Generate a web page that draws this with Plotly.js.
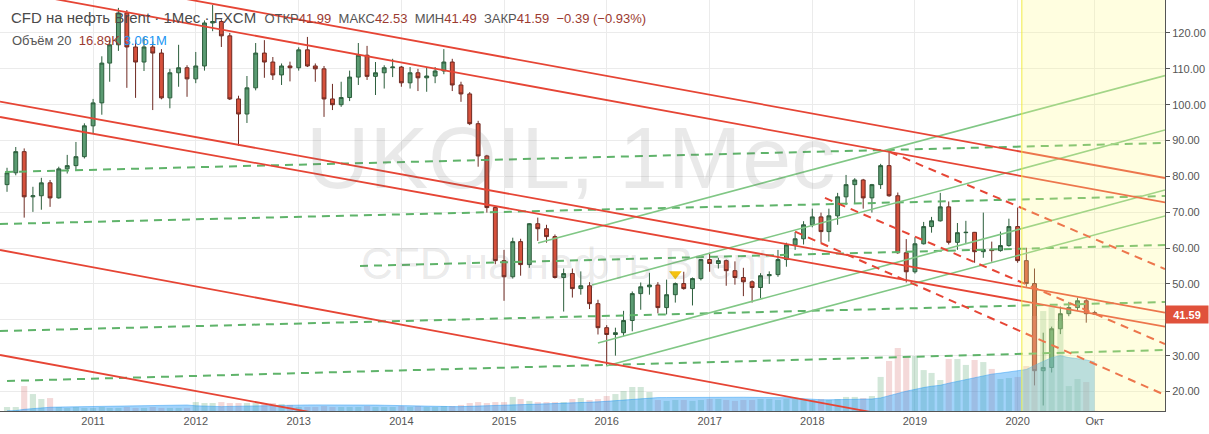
<!DOCTYPE html>
<html>
<head>
<meta charset="utf-8">
<script src="https://cdn.plot.ly/plotly-3.0.1.min.js"></script>
<style>
html,body{margin:0;padding:0;background:#fff;}
#chart{width:1209px;height:434px;}
</style>
</head>
<body>
<div id="chart"></div>
<script>
// ---------------- data ----------------
const months = [
 '2010-03','2010-04','2010-05','2010-06','2010-07','2010-08','2010-09','2010-10','2010-11','2010-12',
 '2011-01','2011-02','2011-03','2011-04','2011-05','2011-06','2011-07','2011-08','2011-09','2011-10','2011-11','2011-12',
 '2012-01','2012-02','2012-03','2012-04','2012-05','2012-06','2012-07','2012-08','2012-09','2012-10','2012-11','2012-12',
 '2013-01','2013-02','2013-03','2013-04','2013-05','2013-06','2013-07','2013-08','2013-09','2013-10','2013-11','2013-12',
 '2014-01','2014-02','2014-03','2014-04','2014-05','2014-06','2014-07','2014-08','2014-09','2014-10','2014-11','2014-12',
 '2015-01','2015-02','2015-03','2015-04','2015-05','2015-06','2015-07','2015-08','2015-09','2015-10','2015-11','2015-12',
 '2016-01','2016-02','2016-03','2016-04','2016-05','2016-06','2016-07','2016-08','2016-09','2016-10','2016-11','2016-12',
 '2017-01','2017-02','2017-03','2017-04','2017-05','2017-06','2017-07','2017-08','2017-09','2017-10','2017-11','2017-12',
 '2018-01','2018-02','2018-03','2018-04','2018-05','2018-06','2018-07','2018-08','2018-09','2018-10','2018-11','2018-12',
 '2019-01','2019-02','2019-03','2019-04','2019-05','2019-06','2019-07','2019-08','2019-09','2019-10','2019-11','2019-12',
 '2020-01','2020-02','2020-03','2020-04','2020-05','2020-06','2020-07','2020-08','2020-09','2020-10'
];
const openP = [
 77.7,81.0,86.9,74.3,74.6,78.2,74.0,82.1,83.0,85.5,
 94.1,100.5,111.6,116.7,125.6,116.1,111.9,116.1,114.4,101.9,108.9,110.3,
 107.2,110.8,122.8,123.2,119.2,101.6,97.4,104.7,114.4,111.9,108.3,110.8,
 110.3,115.3,110.8,110.0,101.6,100.0,102.0,107.7,113.8,107.9,108.9,110.3,
 110.5,106.1,108.9,107.5,108.0,109.4,111.9,105.5,103.0,94.7,85.7,71.3,
 56.5,52.0,61.8,55.4,66.8,65.4,63.2,51.8,52.9,48.7,49.5,44.5,
 37.8,35.9,36.4,39.8,47.3,49.2,49.7,43.4,47.0,50.1,48.7,51.5,
 56.8,55.7,56.5,53.7,51.8,50.6,49.0,52.3,52.6,56.8,60.9,62.6,
 66.5,68.7,64.6,69.0,74.3,77.7,79.0,74.0,77.7,83.0,74.6,58.7,
 53.4,61.2,66.0,67.6,71.5,61.6,64.3,64.4,59.0,59.6,59.3,60.7,
 66.0,56.5,50.1,25.8,26.7,37.5,41.7,43.4,45.3,41.99
];
const highP = [
 82.4,88.2,87.8,77.1,79.6,79.0,82.7,86.0,89.6,94.8,
 101.6,113.5,117.8,127.0,126.4,118.0,118.8,117.6,115.5,110.0,116.7,111.0,
 114.7,123.5,127.8,123.8,120.0,102.5,108.0,117.2,118.0,113.3,111.5,112.0,
 116.0,118.9,111.5,110.8,105.8,106.4,109.5,117.2,116.4,111.9,111.0,112.8,
 110.8,110.5,110.0,110.3,110.5,115.5,112.8,106.4,103.5,95.5,86.0,71.5,
 59.5,62.9,62.6,67.0,68.5,66.5,63.8,54.3,54.3,53.5,50.5,45.6,
 38.5,37.8,42.5,47.9,50.4,53.1,50.5,51.2,50.4,53.4,51.8,57.0,
 58.7,57.3,56.8,56.3,54.5,51.0,53.0,53.5,59.5,61.5,64.5,67.5,
 71.0,69.9,71.0,75.4,80.4,79.5,79.3,77.9,83.5,86.9,75.5,62.5,
 63.0,67.3,68.7,75.4,73.0,67.0,67.6,64.5,69.9,61.8,64.6,68.2,
 71.3,60.1,54.3,36.4,38.1,43.7,45.0,46.2,45.9,42.53
];
const lowP = [
 75.7,80.3,68.5,70.1,70.7,71.5,73.8,80.8,81.8,85.0,
 92.1,97.2,106.4,115.0,104.7,101.9,109.4,98.5,101.5,99.0,105.0,102.2,
 106.0,109.5,120.5,116.1,101.3,88.5,94.9,104.0,107.5,106.9,105.5,106.5,
 109.5,110.5,106.4,96.6,98.5,99.4,101.0,105.5,106.9,102.7,104.5,107.7,
 105.0,104.5,103.8,103.6,106.0,108.5,103.8,100.8,94.3,82.7,69.9,55.5,
 45.3,51.5,52.3,54.5,62.0,61.5,51.5,42.3,46.2,47.0,43.0,35.9,
 27.2,30.0,35.5,36.8,42.8,47.0,41.8,41.5,44.8,48.4,44.0,51.0,
 53.4,54.3,49.5,49.8,46.6,44.8,46.0,50.0,52.0,54.8,59.5,61.0,
 65.8,61.5,61.8,66.5,72.0,72.5,71.0,69.9,76.5,74.3,58.4,50.4,
 52.9,61.0,64.3,67.4,61.0,59.5,61.2,55.9,57.3,56.2,59.0,60.4,
 55.9,49.2,21.7,16.1,25.3,36.0,41.0,42.5,39.2,41.49
];
const closeP = [
 81.0,86.9,74.3,74.6,78.2,74.0,82.1,83.0,85.5,94.1,
 100.5,111.6,116.7,125.6,116.1,111.9,116.1,114.4,101.9,108.9,110.3,107.2,
 110.8,122.8,123.2,119.2,101.6,97.4,104.7,114.4,111.9,108.3,110.8,110.3,
 115.3,110.8,110.0,101.6,100.0,102.0,107.7,113.8,107.9,108.9,110.3,110.5,
 106.1,108.9,107.5,108.0,109.4,111.9,105.5,103.0,94.7,85.7,71.3,56.5,
 52.0,61.8,55.4,66.8,65.4,63.2,51.8,52.9,48.7,49.5,44.5,37.8,
 35.9,36.4,39.8,47.3,49.2,49.7,43.4,47.0,50.1,48.7,51.5,56.8,
 55.7,56.5,53.7,51.8,50.6,49.0,52.3,52.6,56.8,60.9,62.6,66.5,
 68.7,64.6,69.0,74.3,77.7,79.0,74.0,77.7,83.0,74.6,58.7,53.4,
 61.2,66.0,67.6,71.5,61.6,64.3,64.4,59.0,59.6,59.3,60.7,66.0,
 56.5,50.1,25.8,26.7,37.5,41.7,43.4,45.3,41.7,41.59
];
// volume, millions of contracts
const volumeM = [
 0.25,0.25,1.56,1.06,0.75,0.81,0.25,0.19,0.25,0.19,
 0.19,0.25,0.19,0.19,0.25,0.19,0.19,0.25,0.19,0.19,0.19,0.19,
 0.56,0.50,0.50,0.56,0.50,0.50,0.50,0.50,0.44,0.50,0.44,0.38,
 0.25,0.25,0.25,0.31,0.25,0.25,0.25,0.25,0.31,0.25,0.25,0.25,
 0.31,0.25,0.31,0.25,0.25,0.31,0.31,0.38,0.50,0.56,0.50,0.56,
 0.56,0.88,0.75,0.63,0.56,0.56,0.56,0.56,0.75,0.81,0.69,0.75,
 0.94,1.06,1.25,1.50,1.50,1.19,0.69,0.63,0.69,0.69,0.63,0.69,
 0.75,0.75,0.69,0.63,0.69,0.69,0.75,0.75,0.69,0.75,0.75,0.69,
 0.69,0.75,0.69,0.75,0.88,0.88,0.81,0.94,2.13,3.13,3.94,3.38,
 3.44,2.56,2.38,1.94,3.25,3.25,2.88,3.19,3.06,2.63,2.00,2.06,
 2.13,2.81,5.94,6.25,6.50,5.63,1.56,2.00,1.81,0.0169
];
const volumeMaLength = 20;   // "Объём 20"

// axis ticks
const xTickDates = ['2011-01-01','2012-01-01','2013-01-01','2014-01-01','2015-01-01','2016-01-01',
                    '2017-01-01','2018-01-01','2019-01-01','2020-01-01','2020-10-01'];
const xTickLabels = ['2011','2012','2013','2014','2015','2016','2017','2018','2019','2020','Окт'];
const yTickValues = [20,30,40,50,60,70,80,90,100,110,120];
// 40.00 sits under the last-price label in the picture, so its text is hidden there
const yTickLabels = ['20.00','30.00','','50.00','60.00','70.00','80.00','90.00','100.00','110.00','120.00'];

// signal marker (yellow triangle)
const signalDates = ['2016-09-01'];
const signalPrices = [52.8];

// drawn trend lines: [startDate, startPrice, endDate, endPrice]
const redChannelLines = [
 ['2010-02-04',138.97,'2021-06-08',79.55],
 ['2010-02-04',132.27,'2021-06-08',72.75],
 ['2010-02-04',100.86,'2021-06-08',41.98],
 ['2010-02-04',96.57,'2021-06-08',38.08],
 ['2010-02-04',59.47,'2018-11-09',12.75],
 ['2010-02-04',30.18,'2013-05-28',12.72]
];
const redDashedLines = [
 ['2018-10-04',86.81,'2021-06-08',54.17],
 ['2018-02-15',74.0,'2021-06-08',33.25],
 ['2017-11-01',64.57,'2021-06-08',19.02]
];
const greenChannelLines = [
 ['2015-05-02',61.42,'2021-06-08',108.12],
 ['2015-11-10',49.71,'2021-06-08',92.94],
 ['2015-12-01',33.53,'2021-06-08',76.21],
 ['2015-12-30',27.11,'2021-06-08',68.95]
];
const greenDashedLines = [
 ['2010-02-22',81.23,'2021-06-08',89.32],
 ['2010-02-04',66.72,'2021-06-08',74.53],
 ['2013-08-07',55.01,'2021-06-08',60.86],
 ['2010-02-04',36.88,'2021-06-08',44.97],
 ['2010-03-01',22.93,'2021-06-08',31.58]
];
const highlightStart = '2020-01-16';
const highlightEnd = '2021-07-01';
const xRange = ['2010-02-04','2021-06-08'];
const yRange = [14.56, 129.2];
const volRangeTop = 25.7;

// ---------------- build ----------------
// volume moving average (indicator definition: SMA 20 of volume)
const volumeMa = volumeM.map((v,i) => {
  let s = 0;
  for (let k = Math.max(0, i - volumeMaLength + 1); k <= i; k++) s += volumeM[k];
  return s / volumeMaLength;
});
const volColors = closeP.map((c,i) => c >= openP[i] ? 'rgba(95,170,120,0.28)' : 'rgba(215,120,120,0.28)');

const traces = [
 {type:'bar', x:months, y:volumeM, yaxis:'y2', marker:{color:volColors, line:{width:0}}, hoverinfo:'skip'},
 {type:'scatter', mode:'lines', x:months, y:volumeMa, yaxis:'y2', fill:'tozeroy',
  fillcolor:'rgba(33,150,243,0.42)', line:{color:'rgba(33,150,243,0.45)', width:1}, hoverinfo:'skip'},
 {type:'candlestick', x:months, open:openP, high:highP, low:lowP, close:closeP,
  increasing:{line:{color:'#2c5e3c', width:1}, fillcolor:'#5b9b72'},
  decreasing:{line:{color:'#6e2a22', width:1}, fillcolor:'#d6513c'},
  whiskerwidth:0, hoverinfo:'skip'},
 {type:'scatter', mode:'markers', x:signalDates, y:signalPrices,
  marker:{symbol:'triangle-down', size:11, color:'#f5c211'}, hoverinfo:'skip'}
];

function lineShapes(arr, color, width, dash){
  return arr.map(l => ({type:'line', xref:'x', yref:'y', x0:l[0], y0:l[1], x1:l[2], y1:l[3],
    line:{color:color, width:width, dash:dash}, layer:'above'}));
}
const shapes = [].concat(
  lineShapes(greenDashedLines, '#5fb36a', 2, '8px,6px'),
  lineShapes(greenChannelLines, '#80c785', 1.6, 'solid'),
  lineShapes(redChannelLines, '#e64535', 1.8, 'solid'),
  lineShapes(redDashedLines, '#e64535', 2, '8px,6px'),
  [
   {type:'rect', xref:'x', yref:'paper', x0:highlightStart, x1:highlightEnd, y0:0, y1:1,
    fillcolor:'rgba(255,252,140,0.27)', line:{width:0}, layer:'above'},
   {type:'line', xref:'x', yref:'paper', x0:highlightStart, x1:highlightStart, y0:0, y1:1,
    line:{color:'rgba(240,235,60,0.95)', width:1}, layer:'above'}
  ]
);

const PW = 1165, PH = 411;
const annotations = [
 {xref:'paper', yref:'paper', x:570/PW, y:1-157/PH, text:'UKOIL, 1Мес', showarrow:false,
  font:{family:'Liberation Sans, Arial, sans-serif', size:88, color:'rgba(110,110,110,0.15)'}},
 {xref:'paper', yref:'paper', x:565/PW, y:1-263/PH, text:'CFD на нефть Brent', showarrow:false,
  font:{family:'Liberation Sans, Arial, sans-serif', size:44, color:'rgba(110,110,110,0.15)'}},
 {xref:'paper', yref:'paper', x:9/PW, y:1-18/PH, xanchor:'left', yanchor:'middle', showarrow:false,
  font:{family:'Liberation Sans, Arial, sans-serif', size:15, color:'#4a4a4a'},
  text:'CFD на нефть Brent · 1Мес · FXCM  ' +
   '<span style="font-size:13px;color:#555">ОТКР</span><span style="font-size:13px;color:#9b3a30">41.99</span>' +
   '<span style="font-size:13px;color:#555">  МАКС</span><span style="font-size:13px;color:#9b3a30">42.53</span>' +
   '<span style="font-size:13px;color:#555">  МИН</span><span style="font-size:13px;color:#9b3a30">41.49</span>' +
   '<span style="font-size:13px;color:#555">  ЗАКР</span><span style="font-size:13px;color:#9b3a30">41.59  −0.39 (−0.93%)</span>'},
 {xref:'paper', yref:'paper', x:10/PW, y:1-41/PH, xanchor:'left', yanchor:'middle', showarrow:false,
  font:{family:'Liberation Sans, Arial, sans-serif', size:13, color:'#555'},
  text:'Объём 20  <span style="color:#9b3a30">16.89K</span> <span style="color:#2196f3">3.061M</span>'},
 {xref:'paper', yref:'y', x:1, y:closeP[closeP.length-1], xanchor:'left', yanchor:'middle', showarrow:false,
  text:'<b>41.59</b>', bgcolor:'#e0513b', font:{family:'Liberation Sans, Arial, sans-serif', size:11, color:'#fff'},
  width:40, height:15, borderpad:1, xshift:0}
];

const layout = {
 width:1209, height:434,
 margin:{l:0, r:44, t:0, b:23},
 paper_bgcolor:'#ffffff', plot_bgcolor:'#ffffff',
 showlegend:false, dragmode:false,
 font:{family:'Liberation Sans, Arial, sans-serif', size:11, color:'#555'},
 bargap:0.22,
 xaxis:{type:'date', range:xRange, rangeslider:{visible:false},
  tickmode:'array', tickvals:xTickDates, ticktext:xTickLabels,
  showgrid:true, gridcolor:'#ebebeb', gridwidth:1, zeroline:false,
  showline:true, linecolor:'#555', linewidth:1, ticks:'',
  tickfont:{size:11, color:'#555'}, fixedrange:true},
 yaxis:{side:'right', range:yRange, tickmode:'array', tickvals:yTickValues, ticktext:yTickLabels,
  showgrid:true, gridcolor:'#ebebeb', gridwidth:1, zeroline:false,
  showline:true, linecolor:'#555', linewidth:1, ticks:'outside', ticklen:4, tickcolor:'#555',
  tickfont:{size:11, color:'#555'}, fixedrange:true},
 yaxis2:{overlaying:'y', range:[0, volRangeTop], visible:false, fixedrange:true},
 shapes:shapes,
 annotations:annotations
};

Plotly.newPlot('chart', traces, layout, {displayModeBar:false, staticPlot:true});
</script>
</body>
</html>
